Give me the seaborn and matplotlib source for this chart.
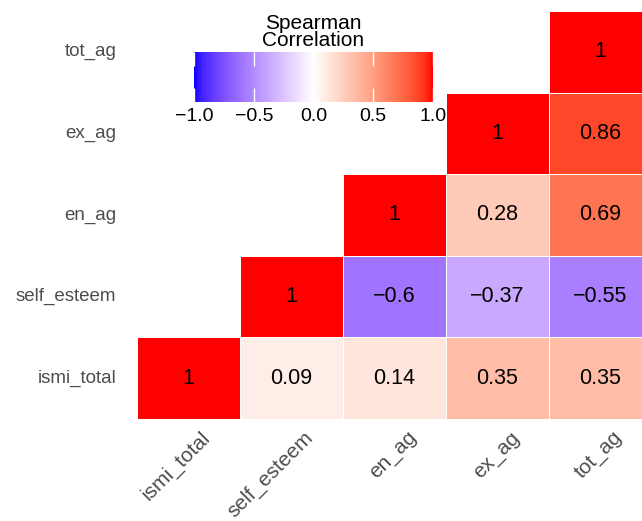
import matplotlib
matplotlib.use("Agg")
import matplotlib.pyplot as plt
import matplotlib.transforms as mtransforms
from matplotlib.colors import ListedColormap
import numpy as np
import pandas as pd
import seaborn as sns

VARS = ["ismi_total", "self_esteem", "en_ag", "ex_ag", "tot_ag"]
# upper triangle of the Spearman matrix, one list per row (ismi_total first)
ROW_ISMI = [1.00, 0.09, 0.14, 0.35, 0.35]
ROW_SELF = [np.nan, 1.00, -0.60, -0.37, -0.55]
ROW_EN = [np.nan, np.nan, 1.00, 0.28, 0.69]
ROW_EX = [np.nan, np.nan, np.nan, 1.00, 0.86]
ROW_TOT = [np.nan, np.nan, np.nan, np.nan, 1.00]
CBAR_TICKS = [-1.0, -0.5, 0.0, 0.5, 1.0]


def _to_lab(rgb):
    rgb = np.asarray(rgb, float)
    c = np.where(rgb <= 0.04045, rgb / 12.92, ((rgb + 0.055) / 1.055) ** 2.4)
    m = np.array([[0.4124, 0.3576, 0.1805],
                  [0.2126, 0.7152, 0.0722],
                  [0.0193, 0.1192, 0.9505]])
    xyz = m @ c / np.array([0.95047, 1.0, 1.08883])
    f = np.where(xyz > 0.008856, np.cbrt(xyz), 7.787 * xyz + 16 / 116)
    return np.array([116 * f[1] - 16, 500 * (f[0] - f[1]), 200 * (f[1] - f[2])])


def _from_lab(lab):
    L, a, b = lab
    fy = (L + 16) / 116
    fx, fz = fy + a / 500, fy - b / 200
    f = np.array([fx, fy, fz])
    xyz = np.where(f ** 3 > 0.008856, f ** 3, (f - 16 / 116) / 7.787)
    xyz = xyz * np.array([0.95047, 1.0, 1.08883])
    minv = np.linalg.inv(np.array([[0.4124, 0.3576, 0.1805],
                                   [0.2126, 0.7152, 0.0722],
                                   [0.0193, 0.1192, 0.9505]]))
    c = np.clip(minv @ xyz, 0, 1)
    return np.where(c <= 0.0031308, 12.92 * c, 1.055 * c ** (1 / 2.4) - 0.055).clip(0, 1)


def gradient2(low, mid, high, n=256):
    """ggplot-like scale_fill_gradient2, interpolated in Lab."""
    lo, mi, hi = _to_lab(low), _to_lab(mid), _to_lab(high)
    cols = []
    for t in np.linspace(-1, 1, n):
        lab = mi + (lo - mi) * (-t) if t < 0 else mi + (hi - mi) * t
        cols.append(_from_lab(lab))
    return ListedColormap(cols)


cmap = gradient2((0, 0, 1), (1, 1, 1), (1, 0, 0))

corr = pd.DataFrame([ROW_TOT, ROW_EX, ROW_EN, ROW_SELF, ROW_ISMI],
                    index=VARS[::-1], columns=VARS)
labels = corr.map(lambda v: "" if pd.isna(v) else f"{v:.2g}".replace("-", "\u2212"))

plt.rcParams["font.family"] = ["Liberation Sans", "DejaVu Sans"]
fig = plt.figure(figsize=(6.42, 5.21), dpi=100)
ax = fig.add_axes([137 / 642, 1 - 419 / 521, 515 / 642, 408 / 521])
cax = fig.add_axes([194 / 642, 1 - 102 / 521, 239 / 642, 50 / 521])

sns.heatmap(corr, mask=corr.isna(), cmap=cmap, vmin=-1, vmax=1,
            annot=labels.values, fmt="",
            annot_kws={"size": 15.5, "color": "black"},
            linewidths=0.6, linecolor="white", ax=ax, cbar_ax=cax,
            cbar_kws={"orientation": "horizontal", "ticks": CBAR_TICKS})

ax.tick_params(length=0)
ax.tick_params(axis="y", pad=15)
ax.set_yticklabels(corr.index, rotation=0, color="#4D4D4D", fontsize=13.5)
ax.set_xticklabels(corr.columns, rotation=45, ha="right", va="top",
                   rotation_mode="anchor", color="#4D4D4D", fontsize=15)
offset = mtransforms.ScaledTranslation(12 / 100, -4 / 100, fig.dpi_scale_trans)
for lab in ax.get_xticklabels():
    lab.set_transform(lab.get_transform() + offset)
ax.set_xlabel("")
ax.set_ylabel("")

cb = ax.collections[0].colorbar
cb.outline.set_visible(False)
cb.set_ticklabels(["\u22121.0", "\u22120.5", "0.0", "0.5", "1.0"])
cax.tick_params(axis="x", direction="in", length=10, width=1, color="white",
                top=True, bottom=True, labelsize=14, pad=4)
cax.set_title("Spearman\nCorrelation", fontsize=15, linespacing=0.9, pad=4)

fig.savefig("out.png", dpi=100)
